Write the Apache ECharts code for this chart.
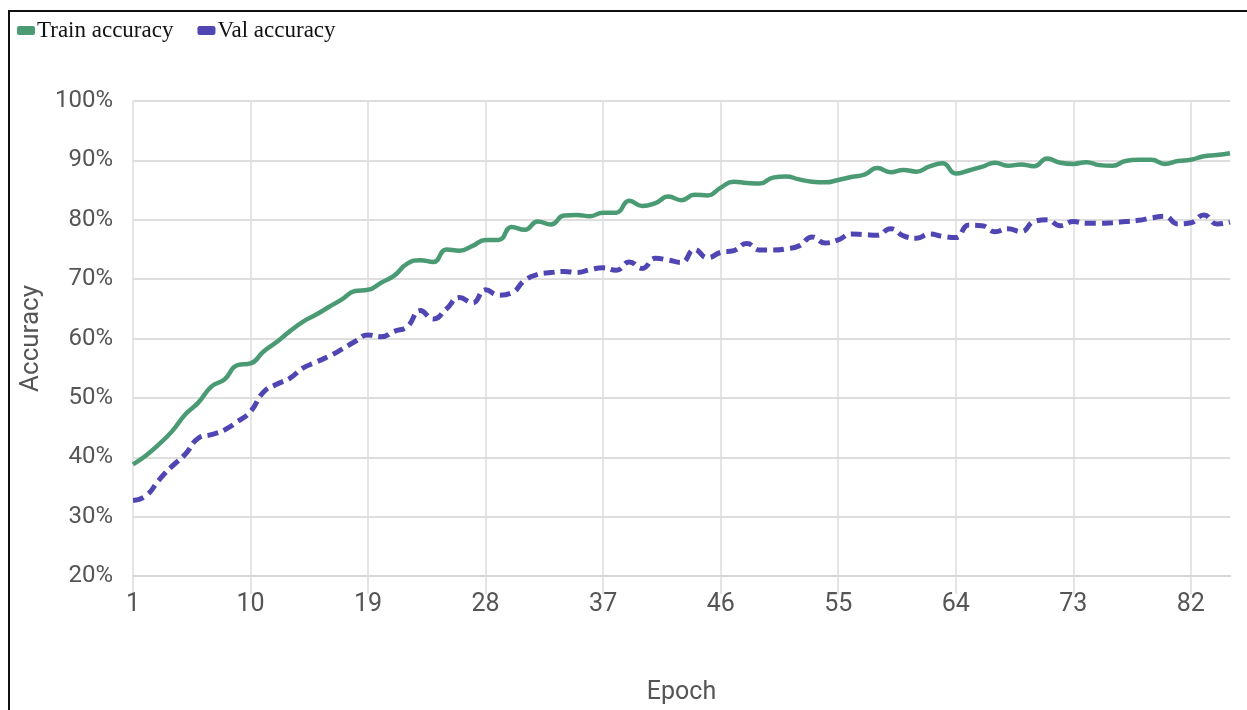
<!DOCTYPE html>
<html>
<head>
<meta charset="utf-8">
<script src="https://cdn.jsdelivr.net/npm/echarts@6/dist/echarts.min.js"></script>
<style>
html,body{margin:0;padding:0;background:#fff;}
#wrap{position:relative;width:1247px;height:710px;overflow:hidden;}
#chart{position:absolute;left:0;top:0;width:1247px;height:710px;}
#frame{position:absolute;left:8px;top:10px;width:1260px;height:720px;border-left:2px solid #111;border-top:2px solid #111;pointer-events:none;}
</style>
</head>
<body>
<div id="wrap"><div id="chart"></div><div id="frame"></div></div>
<script>
const epochs = [];
for (let i = 1; i <= 85; i++) epochs.push(String(i));
const seriesNames = ['Train accuracy', 'Val accuracy'];
const trainAcc = [38.8,40.3,42.2,44.4,47.2,49.2,51.9,53.1,55.5,55.8,
57.8,59.4,61.2,62.8,64.0,65.3,66.6,68.0,68.2,69.4,
70.6,72.6,73.2,72.9,75.0,74.8,75.6,76.6,76.6,78.8,
78.3,79.7,79.2,80.7,80.8,80.6,81.2,81.2,83.2,82.3,
82.8,83.9,83.3,84.2,84.1,85.4,86.4,86.2,86.1,87.1,
87.3,86.8,86.4,86.3,86.7,87.2,87.6,88.7,88.0,88.4,
88.1,89.0,89.5,87.8,88.3,88.9,89.6,89.1,89.3,89.0,
90.3,89.6,89.4,89.7,89.2,89.1,89.9,90.1,90.1,89.4,
89.9,90.1,90.7,90.9,91.2];
const valAcc = [32.7,33.5,36.2,38.5,40.5,43.2,43.8,44.6,46.0,47.7,
51.0,52.3,53.3,55.0,56.0,57.0,58.2,59.5,60.6,60.3,
61.2,62.0,64.7,63.3,65.0,66.9,66.0,68.2,67.3,67.7,
69.8,70.8,71.1,71.3,71.1,71.6,71.9,71.5,72.9,71.8,
73.5,73.2,72.8,75.0,73.6,74.5,74.8,76.0,74.9,74.9,
75.1,75.6,77.1,76.1,76.6,77.6,77.5,77.4,78.5,77.3,
76.9,77.6,77.2,77.0,79.1,79.0,78.0,78.5,78.0,79.7,
80.0,79.0,79.7,79.4,79.4,79.5,79.7,79.9,80.3,80.6,
79.3,79.5,80.8,79.3,79.6];
const yMin = 20, yMax = 100, yStep = 10;

const sans = 'Roboto, "Liberation Sans", sans-serif';
const chart = echarts.init(document.getElementById('chart'), null, {renderer: 'canvas'});
chart.setOption({
  backgroundColor: '#fff',
  animation: false,
  legend: {
    left: 12, top: 14,
    itemWidth: 18, itemHeight: 9, itemGap: 24,
    icon: 'roundRect',
    textStyle: {fontFamily: '"Liberation Serif", serif', fontSize: 23, color: '#111', padding: [0,0,0,-3]},
    data: seriesNames
  },
  grid: {left: 133, right: 17, top: 101, bottom: 132, containLabel: false},
  xAxis: {
    type: 'category', data: epochs, boundaryGap: false,
    name: 'Epoch', nameLocation: 'middle', nameGap: 104,
    nameTextStyle: {fontFamily: sans, fontSize: 25, color: '#555'},
    axisLine: {show: true, lineStyle: {color: '#d6d6d6', width: 2}},
    axisTick: {show: true, interval: 8, length: 18, lineStyle: {color: '#dcdcdc', width: 1.5}},
    axisLabel: {interval: 8, fontFamily: sans, fontSize: 25, color: '#555', margin: 16},
    splitLine: {show: true, interval: 8, lineStyle: {color: '#dcdcdc', width: 1.5}}
  },
  yAxis: {
    type: 'value', min: yMin, max: yMax, interval: yStep,
    name: 'Accuracy', nameLocation: 'middle', nameGap: 78,
    nameTextStyle: {fontFamily: sans, fontSize: 26, color: '#555'},
    axisLine: {show: false}, axisTick: {show: false},
    axisLabel: {formatter: '{value}%', fontFamily: sans, fontSize: 24, color: '#555', margin: 20},
    splitLine: {show: true, lineStyle: {color: '#dedede', width: 2}}
  },
  series: [
    {
      name: seriesNames[0], type: 'line', data: trainAcc, smooth: 0.5,
      showSymbol: false, symbol: 'none',
      itemStyle: {color: '#4a9b73'},
      lineStyle: {color: '#4a9b73', width: 4.5}
    },
    {
      name: seriesNames[1], type: 'line', data: valAcc, smooth: 0.5,
      showSymbol: false, symbol: 'none',
      itemStyle: {color: '#5046b3'},
      lineStyle: {color: '#5046b3', width: 5, type: [11, 6]}
    }
  ]
});
</script>
</body>
</html>
